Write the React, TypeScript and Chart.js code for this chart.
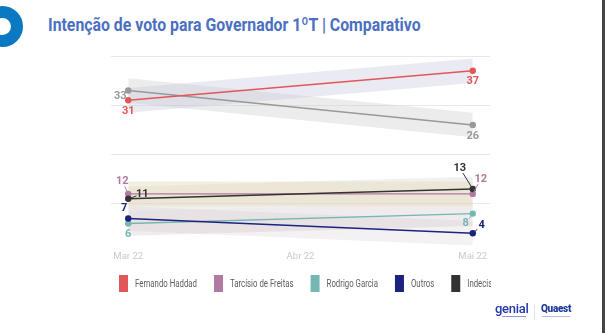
import React, { useEffect, useMemo, useRef } from 'react';
import { Chart, registerables } from 'chart.js';

Chart.register(...registerables);

// ---------- data ----------
const TITLE = 'Intenção de voto para Governador 1ºT | Comparativo';
const MONTHS = ['Mar 22', 'Abr 22', 'Mai 22'];
const SURVEY_X = [0, 2]; // surveys in Mar 22 and Mai 22
const HADDAD = [31, 37];
const TARCISIO = [12, 12];
const RODRIGO = [6, 8];
const OUTROS = [7, 4];
const INDECISOS = [11, 13];
const BRANCO_NULO = [33, 26];
const MARGIN = 2.5; // margem de erro (faixa sombreada)
const Y_GRID = [10, 20, 30, 40];

// ---------- styles ----------
type Series = {
  name: string;
  values: number[];
  color: string;
  labelColor: string;
  band: string;
  offsets: [number, number, boolean][];
};

const SERIES: Series[] = [
  { name: 'Fernando Haddad', values: HADDAD, color: '#e15759', labelColor: '#e15759', band: 'rgba(200,200,224,0.38)', offsets: [[0, 11, false], [0, 10, false]] },
  { name: 'Tarcísio de Freitas', values: TARCISIO, color: '#b07aa1', labelColor: '#b07aa1', band: 'rgba(232,220,186,0.45)', offsets: [[-6, -13, true], [8, -15, true]] },
  { name: 'Rodrigo Garcia', values: RODRIGO, color: '#76b7b2', labelColor: '#76b7b2', band: 'rgba(214,200,204,0.36)', offsets: [[0, 11, false], [-7, 10, true]] },
  { name: 'Outros', values: OUTROS, color: '#1c237e', labelColor: '#1c237e', band: 'rgba(214,204,208,0.28)', offsets: [[-4, -10, false], [9, -8, true]] },
  { name: 'Indecisos', values: INDECISOS, color: '#333333', labelColor: '#333333', band: 'rgba(200,200,200,0.28)', offsets: [[14, -5, true], [-13, -21, true]] },
  { name: 'Branco/Nulo/Não vai votar', values: BRANCO_NULO, color: '#999999', labelColor: '#999999', band: 'rgba(205,205,205,0.38)', offsets: [[-8, 6, false], [0, 11, false]] },
];

const DRAW_ORDER = [5, 0, 1, 4, 2, 3];

const labelPlugin = {
  id: 'pointLabels',
  afterDatasetsDraw(chart: any) {
    const ctx = chart.ctx;
    chart.data.datasets.forEach((ds: any, di: number) => {
      if (ds._series === undefined) return;
      const s: Series = SERIES[ds._series];
      const meta = chart.getDatasetMeta(di);
      meta.data.forEach((pt: any, i: number) => {
        const [dx, dy, leader] = s.offsets[i];
        const lx = pt.x + dx;
        const ly = pt.y + dy;
        ctx.save();
        if (leader) {
          const vx = pt.x - lx;
          const vy = pt.y - ly;
          const len = Math.hypot(vx, vy) || 1;
          const ux = vx / len;
          const uy = vy / len;
          ctx.strokeStyle = s.color;
          ctx.lineWidth = 1;
          ctx.beginPath();
          ctx.moveTo(lx + ux * 6, ly + uy * 6);
          ctx.lineTo(pt.x - ux * 2, pt.y - uy * 2);
          ctx.stroke();
        }
        ctx.fillStyle = s.labelColor;
        ctx.font = '700 11px Roboto';
        ctx.textAlign = 'center';
        ctx.textBaseline = 'middle';
        ctx.fillText(String(s.values[i]), lx, ly);
        ctx.restore();
      });
    });
  },
};

const LEGEND_ORDER = [0, 1, 2, 3, 4, 5];

const legendPlugin = {
  id: 'clippedLegend',
  afterDraw(chart: any) {
    const ctx = chart.ctx;
    ctx.save();
    ctx.beginPath();
    ctx.rect(0, 0, 491, chart.height);
    ctx.clip();
    ctx.font = '400 10.5px Roboto';
    const s = 62 / ctx.measureText('Fernando Haddad').width;
    let x = 119;
    const y = 275;
    LEGEND_ORDER.forEach((idx) => {
      const item = SERIES[idx];
      ctx.fillStyle = item.color;
      ctx.fillRect(x, y, 9, 17);
      const tx = x + 16;
      ctx.save();
      ctx.translate(tx, y + 9);
      ctx.scale(s, 1);
      ctx.fillStyle = '#5e5e5e';
      ctx.textAlign = 'left';
      ctx.textBaseline = 'middle';
      ctx.fillText(item.name, 0, 0);
      ctx.restore();
      x = tx + ctx.measureText(item.name).width * s + 17;
    });
    ctx.restore();
  },
};

function ChartCanvas() {
  const ref = useRef<HTMLCanvasElement | null>(null);
  useEffect(() => {
    if (!ref.current) return;
    const datasets: any[] = [];
    SERIES.forEach((s) => {
      datasets.push({
        data: SURVEY_X.map((x, i) => ({ x, y: s.values[i] + MARGIN })),
        borderWidth: 0,
        pointRadius: 0,
        fill: false,
        order: 10,
        tension: 0,
      });
      datasets.push({
        data: SURVEY_X.map((x, i) => ({ x, y: s.values[i] - MARGIN })),
        borderWidth: 0,
        pointRadius: 0,
        fill: '-1',
        backgroundColor: s.band,
        order: 10,
        tension: 0,
      });
    });
    DRAW_ORDER.forEach((si, k) => {
      const s = SERIES[si];
      datasets.push({
        label: s.name,
        _series: si,
        data: SURVEY_X.map((x, i) => ({ x, y: s.values[i] })),
        borderColor: s.color,
        backgroundColor: s.color,
        pointBackgroundColor: s.color,
        pointBorderWidth: 0,
        pointRadius: 3.2,
        borderWidth: 1.4,
        fill: false,
        order: 5 - k,
        tension: 0,
      });
    });

    const chart = new Chart(ref.current, {
      type: 'line',
      data: { datasets },
      options: {
        animation: false,
        responsive: false,
        devicePixelRatio: 1,
        layout: { padding: { left: 111, right: 115, top: 56, bottom: 66 } },
        plugins: { legend: { display: false }, tooltip: { enabled: false }, title: { display: false } },
        scales: {
          x: {
            type: 'linear',
            min: -0.1,
            max: 2.1,
            afterBuildTicks: (axis: any) => {
              axis.ticks = MONTHS.map((_, i) => ({ value: i }));
            },
            grid: { display: false, drawTicks: false },
            border: { display: false },
            ticks: {
              padding: 5,
              color: '#c9c9c9',
              font: { family: 'Roboto', size: 9.5 },
              maxRotation: 0,
              callback: (v: any) => MONTHS[v] ?? '',
            },
          },
          y: {
            min: 1.5,
            max: 40,
            afterBuildTicks: (axis: any) => {
              axis.ticks = Y_GRID.map((v) => ({ value: v }));
            },
            grid: { color: '#e8e8e8', lineWidth: 1, drawTicks: false },
            border: { display: false },
            ticks: { display: false },
          },
        },
      } as any,
      plugins: [labelPlugin, legendPlugin],
    });
    return () => chart.destroy();
  }, []);
  return <canvas ref={ref} width={605} height={333} style={{ position: 'absolute', left: 0, top: 0 }} />;
}

export default function App() {
  const titleScale = useMemo(() => {
    const c = document.createElement('canvas').getContext('2d');
    if (!c) return 0.8;
    c.font = '700 19px Roboto';
    return 373 / c.measureText(TITLE).width;
  }, []);

  return (
    <div style={{ position: 'fixed', left: 0, top: 0, width: 605, height: 333, background: '#fff', overflow: 'hidden', fontFamily: 'Roboto, sans-serif' }}>
      <div style={{ position: 'absolute', left: -18, top: 6, width: 41, height: 41, borderRadius: '50%', border: '12px solid #0a79c2', boxSizing: 'border-box' }} />
      <div
        style={{
          position: 'absolute',
          left: 48,
          top: 15,
          fontSize: 19,
          lineHeight: '19px',
          fontWeight: 700,
          color: '#4b70c2',
          whiteSpace: 'nowrap',
          transform: `scaleX(${titleScale})`,
          transformOrigin: 'left top',
        }}
      >
        {TITLE}
      </div>
      <ChartCanvas />
      <div style={{ position: 'absolute', left: 495, top: 302, fontSize: 13, lineHeight: '14px', fontWeight: 500, color: '#2436ad', letterSpacing: -0.3 }}>genial</div>
      <div style={{ position: 'absolute', left: 502, top: 316, width: 24, height: 1, background: '#8c97d6' }} />
      <div style={{ position: 'absolute', left: 534, top: 305, width: 1, height: 15, background: '#d3e6f6' }} />
      <div style={{ position: 'absolute', left: 541, top: 303, fontSize: 10, lineHeight: '12px', fontWeight: 900, color: '#1f3a9a', letterSpacing: -0.3 }}>Quaest</div>
      <div style={{ position: 'absolute', left: 542, top: 316, width: 28, height: 1, background: '#b4bde3' }} />
      <div style={{ position: 'absolute', left: 602, top: 0, width: 3, height: 333, background: '#444' }} />
    </div>
  );
}
